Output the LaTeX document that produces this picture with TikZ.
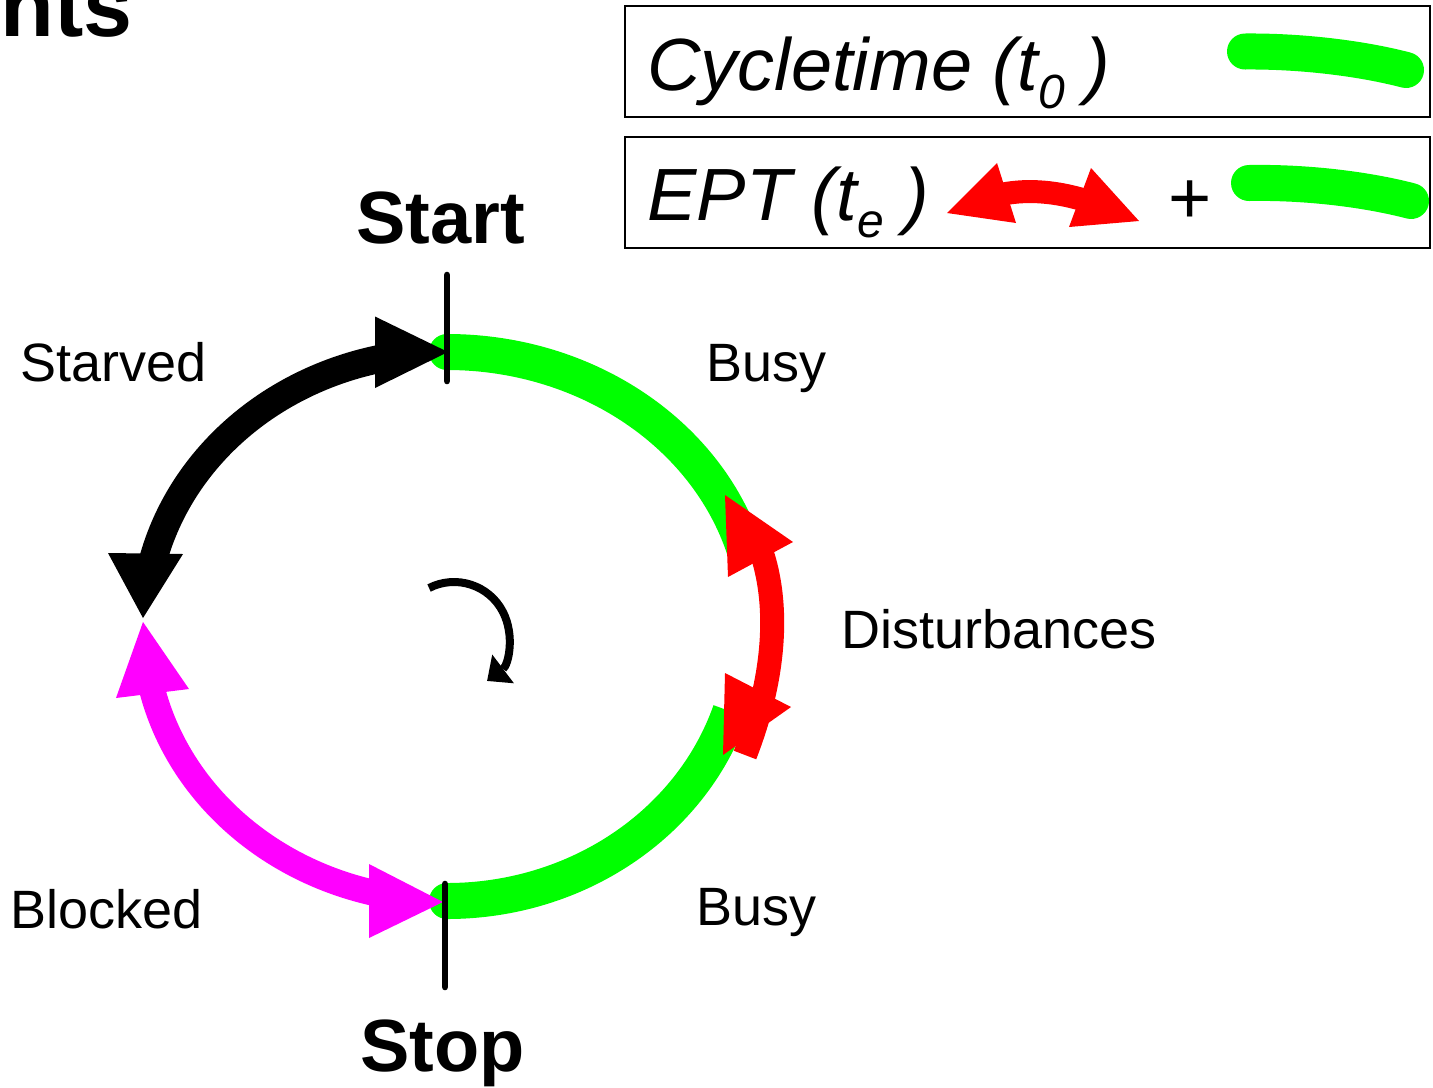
\documentclass[tikz,border=0pt]{standalone}
\usepackage{fontspec}
\setmainfont{Liberation Sans}
\usetikzlibrary{arrows.meta}
\definecolor{cgreen}{RGB}{0,255,0}
\definecolor{cred}{RGB}{255,0,0}
\definecolor{cmag}{RGB}{255,0,255}
\begin{document}
\begin{tikzpicture}[x=0.5pt,y=0.5pt,
  lbl/.style={inner sep=0pt, anchor=base west, font=\fontsize{27pt}{30pt}\selectfont},
  bigl/.style={inner sep=0pt, anchor=base west, font=\fontsize{37pt}{40pt}\selectfont\bfseries},
  leg/.style={inner sep=0pt, anchor=base west, font=\fontsize{37pt}{42pt}\selectfont\itshape},
  legbox/.style={draw, line width=1.1pt, inner sep=0pt, anchor=north west, minimum width=402.5pt, minimum height=55.5pt},
  band/.style={line width=18pt, draw=cgreen},
  blackarc/.style={line width=14pt, draw=black},
  magarc/.style={line width=13pt, draw=cmag},
  bar/.style={line width=3.3pt, line cap=round},
  redfill/.style={fill=cred},
]
\useasboundingbox (0,0) rectangle (1433,-1087);

% title fragment
\node[inner sep=0pt, anchor=base east, font=\fontsize{44pt}{48pt}\selectfont\bfseries] (title) at (133,-36) {nts};

% legend
\node[legbox] (box1) at (624,-5) {};
\node[legbox] (box2) at (624,-136) {};
\node[leg] (cyc) at (647,-90) {Cycletime (t\raisebox{-9pt}{\fontsize{24pt}{24pt}\selectfont 0}\ )};
\node[leg] (ept) at (647,-220) {EPT (t\raisebox{-8.5pt}{\fontsize{24pt}{24pt}\selectfont e}\ )};
\node[inner sep=0pt, font=\fontsize{37pt}{40pt}\selectfont] (plus) at (1190,-202) {+};
\draw[band, line cap=round] (1245,-51.5) .. controls (1300,-51) and (1360,-58) .. (1406,-70);
\draw[band, line cap=round] (1249,-183) .. controls (1305,-182) and (1365,-189) .. (1411,-201);
\draw[cred, line width=11.5pt] (1003,-194) .. controls (1030,-189) and (1057,-192) .. (1084,-200);
\fill[redfill] (947,-213) -- (997,-163) -- (1016,-223) -- cycle;
\fill[redfill] (1139,-221) -- (1091,-168) -- (1069,-227) -- cycle;

% cycle
\coordinate (top) at (447,-352);
\coordinate (bot) at (447,-901);
\coordinate (cen) at (447,-626.5);
\draw[band] (top) arc[start angle=90,end angle=15,x radius=310,y radius=274.5];
\fill[cgreen] (top) circle[radius=18];
\draw[band] (bot) arc[start angle=-90,end angle=-18,x radius=298,y radius=274.5];
\fill[cgreen] (bot) circle[radius=18];

% starved (black) double arrow
\draw[blackarc] (cen) ++(167:303 and 274.5) arc[start angle=167,end angle=102,x radius=303,y radius=274.5];
\fill (448,-352) -- (375,-316.5) -- (375,-388) -- cycle;
\fill (143,-618) -- (108,-553) -- (183,-554) -- cycle;

% blocked (magenta) double arrow
\draw[magarc] (cen) ++(192:303 and 274.5) arc[start angle=192,end angle=258,x radius=303,y radius=274.5];
\fill[cmag] (143,-622) -- (116,-698) -- (189,-689) -- cycle;
\fill[cmag] (443,-902) -- (369,-864) -- (369,-938) -- cycle;

\draw[bar] (447,-275) -- (447,-381);
\draw[bar] (445,-884) -- (445,-987);

% disturbances arrow
\draw[cred, line width=12pt] (757,-540) .. controls (778,-590) and (780,-665) .. (745,-755);
\fill[redfill] (725,-495) -- (793,-542) -- (728,-577) -- cycle;
\fill[redfill] (725,-673) -- (791,-707) -- (723,-755) -- cycle;

% rotation arrow
\draw[line width=4pt, -{Triangle[length=10pt,width=18pt,line width=0pt]}]
  (454,-637) ++(117:55) arc[start angle=117,end angle=-53,radius=55];

% labels
\node[bigl] (start) at (356,-243) {Start};
\node[bigl] (stop) at (360,-1071) {Stop};
\node[lbl] (starved) at (20,-381) {Starved};
\node[lbl] (busy1) at (706,-381) {Busy};
\node[lbl] (dist) at (841,-648) {Disturbances};
\node[lbl] (blocked) at (10,-928) {Blocked};
\node[lbl] (busy2) at (696,-925) {Busy};
\end{tikzpicture}
\end{document}
